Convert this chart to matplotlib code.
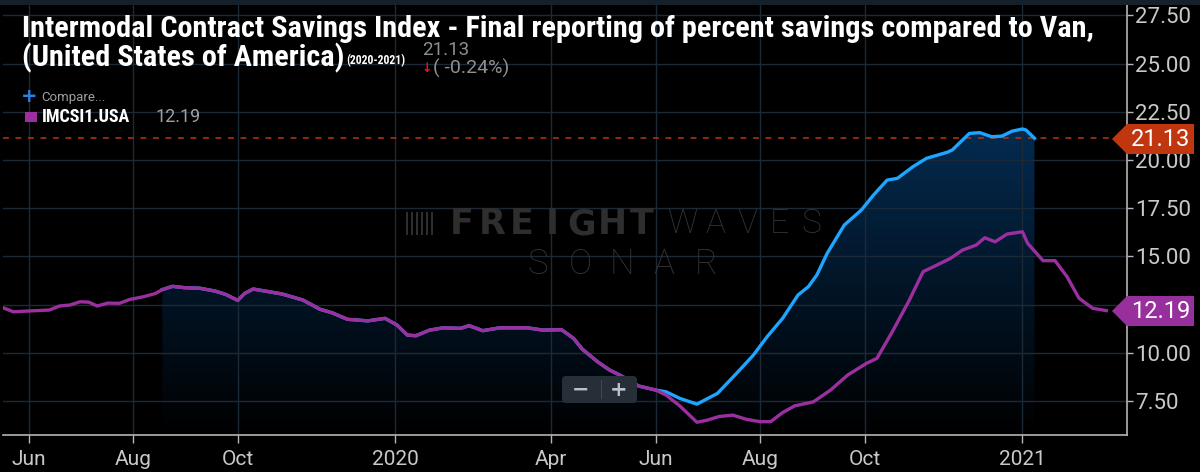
# -*- coding: utf-8 -*-
import numpy as np
import pandas as pd
import matplotlib
matplotlib.use('Agg')
import matplotlib.pyplot as plt
import matplotlib.dates as mdates
from matplotlib.patches import Polygon, Rectangle, FancyBboxPatch
from matplotlib.colors import LinearSegmentedColormap
from matplotlib.transforms import IdentityTransform

# ---- datos ----
fechas_imcsi = ['2019-05-17', '2019-05-23', '2019-06-01', '2019-06-13', '2019-06-19', '2019-06-25',
                '2019-07-01', '2019-07-06', '2019-07-11', '2019-07-17', '2019-07-24', '2019-07-30',
                '2019-08-07', '2019-08-14', '2019-08-18', '2019-08-24', '2019-08-31', '2019-09-09',
                '2019-09-18', '2019-09-24', '2019-10-01', '2019-10-05', '2019-10-10', '2019-10-16',
                '2019-10-27', '2019-11-08', '2019-11-18', '2019-11-25', '2019-12-04', '2019-12-16',
                '2019-12-26', '2020-01-02', '2020-01-08', '2020-01-13', '2020-01-21', '2020-01-29',
                '2020-02-08', '2020-02-13', '2020-02-21', '2020-03-02', '2020-03-18', '2020-03-27',
                '2020-04-07', '2020-04-14', '2020-04-19', '2020-04-28', '2020-05-05', '2020-05-11',
                '2020-05-22', '2020-06-01', '2020-06-07', '2020-06-15', '2020-06-25', '2020-07-01',
                '2020-07-08', '2020-07-16', '2020-07-24', '2020-08-01', '2020-08-07', '2020-08-14',
                '2020-08-21', '2020-09-01', '2020-09-11', '2020-09-21', '2020-10-02', '2020-10-08',
                '2020-10-17', '2020-10-27', '2020-11-04', '2020-11-12', '2020-11-20', '2020-11-27',
                '2020-12-05', '2020-12-10', '2020-12-16', '2020-12-23', '2021-01-01', '2021-01-04',
                '2021-01-13', '2021-01-20', '2021-01-27', '2021-02-03', '2021-02-11', '2021-02-19']
imcsi = [12.34, 12.13, 12.17, 12.22, 12.43, 12.48, 12.65, 12.63, 12.43, 12.58, 12.57, 12.77,
         12.91, 13.08, 13.28, 13.45, 13.38, 13.35, 13.20, 13.03, 12.72, 13.08, 13.31, 13.22,
         13.05, 12.74, 12.26, 12.08, 11.74, 11.66, 11.79, 11.44, 10.92, 10.89, 11.18, 11.30,
         11.27, 11.41, 11.15, 11.30, 11.30, 11.18, 11.20, 10.75, 10.20, 9.54, 9.11, 8.85,
         8.28, 8.07, 7.81, 7.25, 6.40, 6.51, 6.70, 6.77, 6.55, 6.43, 6.43, 6.90,
         7.25, 7.46, 8.07, 8.85, 9.46, 9.71, 11.09, 12.74, 14.21, 14.55, 14.90, 15.33,
         15.59, 15.97, 15.76, 16.16, 16.28, 15.68, 14.78, 14.78, 13.95, 12.83, 12.31, 12.19]

# serie azul: igual a la morada desde ago-2019 hasta jun-2020, luego se separa
inicio_azul = '2019-08-18'
union_azul = '2020-06-01'
fechas_azul = ['2020-06-07', '2020-06-15', '2020-06-25', '2020-07-01', '2020-07-07', '2020-07-19',
               '2020-07-28', '2020-08-05', '2020-08-14', '2020-08-23', '2020-08-29', '2020-09-03',
               '2020-09-09', '2020-09-19', '2020-09-29', '2020-10-06', '2020-10-14', '2020-10-20',
               '2020-10-29', '2020-11-06', '2020-11-18', '2020-11-21', '2020-12-01', '2020-12-07',
               '2020-12-14', '2020-12-20', '2020-12-26', '2021-01-01', '2021-01-03', '2021-01-08']
azul = [7.98, 7.64, 7.34, 7.62, 7.90, 9.02, 9.89, 10.84, 11.79, 13.00, 13.43, 14.04,
        15.16, 16.63, 17.41, 18.18, 18.96, 19.05, 19.65, 20.09, 20.40, 20.52, 21.38, 21.42,
        21.21, 21.24, 21.50, 21.61, 21.56, 21.13]

ultimo_azul = 21.13
ultimo_imcsi = 12.19
cambio = '( -0.24%)'

yticks = [7.5, 10.0, 12.5, 15.0, 17.5, 20.0, 22.5, 25.0, 27.5]
xticks = ['2019-06-01', '2019-08-01', '2019-10-01', '2020-01-01', '2020-04-01',
          '2020-06-01', '2020-08-01', '2020-10-01', '2021-01-01']
xlabels = ['Jun', 'Aug', 'Oct', '2020', 'Apr', 'Jun', 'Aug', 'Oct', '2021']

titulo1 = 'Intermodal Contract Savings Index - Final reporting of percent savings compared to Van,'
titulo2 = '(United States of America)'

# ---- estilo ----
W, H = 1200, 472
cond = ['Roboto Condensed', 'Liberation Sans Narrow', 'Roboto', 'DejaVu Sans']
num = ['Roboto', 'DejaVu Sans']
gris = '#c9c9c9'
morado = '#9c2f9f'
celeste = '#1ea5ff'

def fx(x):
    return x / W

def fy(y):
    return 1 - y / H

t_p = pd.to_datetime(fechas_imcsi)
y_p = np.array(imcsi)
mask = (t_p >= inicio_azul) & (t_p <= union_azul)
t_b = t_p[mask].append(pd.to_datetime(fechas_azul))
y_b = np.concatenate([y_p[mask], azul])

fig = plt.figure(figsize=(12, 4.72), dpi=100, facecolor='black')
ax = fig.add_axes([fx(3), 37 / H, fx(1127 - 3), (467 - 37) / H])
ax.set_facecolor('black')
x0, x1 = pd.Timestamp('2019-05-17'), pd.Timestamp('2021-03-03')
y0, y1 = 5.74, 28.04

# relleno degradado bajo la serie azul
xn = mdates.date2num(t_b)
verts = np.column_stack([np.r_[xn[0], xn, xn[-1]], np.r_[y0, y_b, y0]])
poly = Polygon(verts, closed=True, facecolor='none', edgecolor='none')
ax.add_patch(poly)
grad = np.linspace(0, 1, 256).reshape(-1, 1)
cmap = LinearSegmentedColormap.from_list('fondo', ['#000000', '#042c52'])
im = ax.imshow(grad, cmap=cmap, aspect='auto', origin='lower',
               extent=[xn[0], xn[-1], y0, 22.0], zorder=0.2)
im.set_clip_path(poly)

ax.axhline(ultimo_azul, color='#a83219', lw=1.2, ls=(0, (3.5, 4)), zorder=2)
ax.plot(t_b, y_b, color=celeste, lw=2.4, zorder=3)
ax.plot(t_p, y_p, color=morado, lw=2.4, zorder=4)

ax.set_xlim(x0, x1)
ax.set_ylim(y0, y1)

ax.grid(color='#1c2a38', lw=1)
ax.yaxis.tick_right()
ax.set_yticks(yticks)
ax.set_yticklabels(['%.2f' % v for v in yticks], family=num, fontsize=16, color=gris)
ax.set_xticks(pd.to_datetime(xticks))
ax.set_xticklabels(xlabels, family=num, fontsize=15, color=gris)
ax.tick_params(axis='y', colors='#b5b5b5', length=4, width=1, pad=2, labelcolor=gris)
ax.tick_params(axis='x', colors='#b5b5b5', length=6, width=1, pad=5, labelcolor=gris)
for s in ['top', 'left']:
    ax.spines[s].set_visible(False)
for s in ['right', 'bottom']:
    ax.spines[s].set_color('#b5b5b5')
    ax.spines[s].set_linewidth(1.2)

# marca de agua
for i, c in enumerate('FREIGHT'):
    fig.text(fx(462 + i * 30), fy(224), c, fontsize=25, weight='heavy', color='#2e2e2e',
             family='DejaVu Sans', ha='center', va='center')
for i, c in enumerate('WAVES'):
    fig.text(fx(683 + i * 32), fy(224), c, fontsize=24, weight='light', color='#333333',
             family=num, ha='center', va='center')
for i, c in enumerate('SONAR'):
    fig.text(fx(538 + i * 42), fy(264), c, fontsize=25, weight='light', color='#333333',
             family=num, ha='center', va='center')
for i in range(6):
    fig.add_artist(Rectangle((fx(406 + i * 5), fy(235)), fx(2), 23 / H,
                             color='#2e2e2e', lw=0))

# botones de zoom
idt = IdentityTransform()
fig.add_artist(FancyBboxPatch((562, H - 403), 75, 27, boxstyle='round,pad=0,rounding_size=4',
                              facecolor='#262f38', edgecolor='none', transform=idt))
fig.add_artist(Rectangle((601, H - 399), 1, 19, color='#3d4852', lw=0, transform=idt))
fig.text(fx(581), fy(390), '\u2212', fontsize=15, weight='bold', color='#b8c0c8',
         ha='center', va='center')
fig.text(fx(619), fy(390), '+', fontsize=15, weight='bold', color='#b8c0c8',
         ha='center', va='center')

# etiquetas de ultimo valor
for val, col, yc in [(ultimo_azul, '#c0360f', 139), (ultimo_imcsi, '#972f9c', 311)]:
    pts = [(1112, yc), (1127, yc - 15), (1194, yc - 15), (1194, yc + 15), (1127, yc + 15)]
    fig.add_artist(Polygon([(px, H - py) for px, py in pts], closed=True, facecolor=col,
                           edgecolor='none', transform=idt))
    fig.text(fx(1161), fy(yc), '%.2f' % val, fontsize=17, color='white', family=num,
             ha='center', va='center')

# franja superior
fig.add_artist(Rectangle((0, fy(5)), 1, 5 / H, color='#15202a', lw=0))

# titulo y leyenda
fig.text(fx(22), fy(37), titulo1, fontsize=21.8, weight='bold', color='white', family=cond,
         va='baseline')
fig.text(fx(22), fy(66), titulo2, fontsize=21.8, weight='bold', color='white', family=cond,
         va='baseline')
fig.text(fx(346), fy(64), '(2020-2021)', fontsize=8.5, weight='bold', color='white',
         family=cond, va='baseline')
fig.text(fx(422), fy(55), '%.2f' % ultimo_azul, fontsize=13.5, color='#8f8f8f', family=num,
         va='baseline')
fig.text(fx(427), fy(68), '\u2193', fontsize=9, weight='bold', color='#e0192b',
         family='DejaVu Sans', ha='center', va='center')
fig.text(fx(433), fy(68), cambio, fontsize=14, color='#8f8f8f', family=num, va='center')

fig.text(fx(29), fy(96), '+', fontsize=14, weight='bold', color='#2a82e4',
         family='DejaVu Sans', ha='center', va='center')
fig.text(fx(41), fy(97), 'Compare...', fontsize=9.5, color='#a0a0a0', family=num, va='center')
fig.add_artist(Rectangle((fx(25), fy(122)), fx(12), 10 / H, color=morado, lw=0))
fig.text(fx(42), fy(117), 'IMCSI1.USA', fontsize=13, weight='bold', color='white',
         family=cond, va='center')
fig.text(fx(155), fy(117), '%.2f' % ultimo_imcsi, fontsize=13, color='#a0a0a0', family=num,
         va='center')

fig.savefig('out.png', dpi=100, facecolor='black')
